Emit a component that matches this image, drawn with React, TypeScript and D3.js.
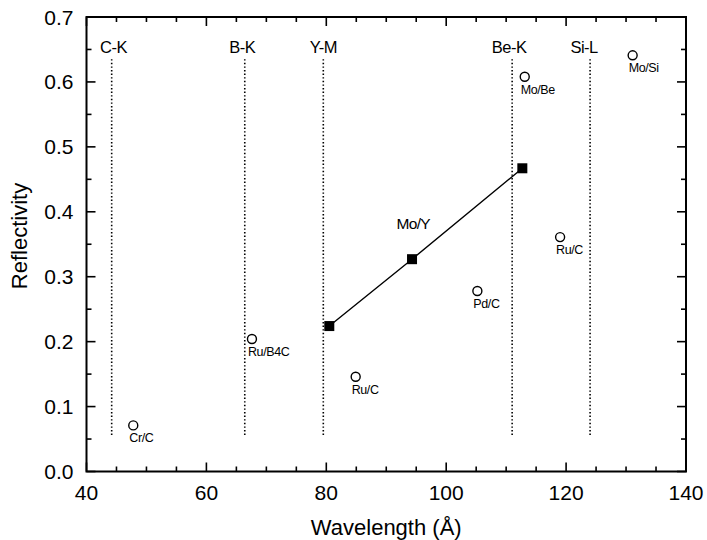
import React from "react";
import * as d3 from "d3";

const edgeNames = ["C-K", "B-K", "Y-M", "Be-K", "Si-L"];
const edgeX = [44.2, 66.4, 79.5, 111, 124];
const edgeLabelX = [44.5, 66, 79.5, 110.5, 123];
const edgeTop = 0.635;
const edgeBottom = 0.055;
const edgeLabelY = 0.645;

const moYX = [80.5, 94.3, 112.7];
const moYY = [0.224, 0.327, 0.467];
const moYLabel = "Mo/Y";
const moYLabelPos = [94.5, 0.373];

const otherNames = ["Cr/C", "Ru/B4C", "Ru/C", "Pd/C", "Ru/C", "Mo/Be", "Mo/Si"];
const otherX = [47.8, 67.6, 84.9, 105.2, 119.0, 113.1, 131.1];
const otherY = [0.071, 0.204, 0.146, 0.278, 0.361, 0.608, 0.641];

const xMajorTicks = [40, 60, 80, 100, 120, 140];
const yMajorTicks = [0.0, 0.1, 0.2, 0.3, 0.4, 0.5, 0.6, 0.7];
const xTitle = "Wavelength (Å)";
const yTitle = "Reflectivity";

const W = 707;
const H = 540;
const L = 86.5, R = 686, T = 17, B = 471.5;
const FONT = "'Liberation Sans', Arial, Helvetica, sans-serif";

export default function App() {
  const x = d3.scaleLinear().domain([40, 140]).range([L, R]);
  const y = d3.scaleLinear().domain([0, 0.7]).range([B, T]);
  const xMinor = d3.range(40, 140.01, 5);
  const yMinor = d3.range(0, 0.7001, 0.05);
  const line = d3.line<number>().x((d, i) => x(moYX[i])).y((d, i) => y(moYY[i]));
  const isMajorX = (v: number) => xMajorTicks.some((m) => Math.abs(m - v) < 1e-6);
  const isMajorY = (v: number) => Math.abs(Math.round(v * 10) - v * 10) < 1e-6;

  return (
    <svg width={W} height={H} style={{ position: "absolute", left: 0, top: 0 }} fontFamily={FONT}>
      <rect x={0} y={0} width={W} height={H} fill="#fff" />
      <rect x={L} y={T} width={R - L} height={B - T} fill="none" stroke="#000" strokeWidth={2} />
      {xMinor.map((v) => {
        const len = isMajorX(v) ? 9 : 5;
        return (
          <g key={"xt" + v}>
            <line x1={x(v)} x2={x(v)} y1={B} y2={B - len} stroke="#000" strokeWidth={1.6} />
            <line x1={x(v)} x2={x(v)} y1={T} y2={T + len} stroke="#000" strokeWidth={1.6} />
          </g>
        );
      })}
      {yMinor.map((v) => {
        const len = isMajorY(v) ? 9 : 5;
        return (
          <g key={"yt" + v}>
            <line x1={L} x2={L + len} y1={y(v)} y2={y(v)} stroke="#000" strokeWidth={1.6} />
            <line x1={R} x2={R - len} y1={y(v)} y2={y(v)} stroke="#000" strokeWidth={1.6} />
          </g>
        );
      })}
      {xMajorTicks.map((v) => (
        <text key={"xl" + v} x={x(v)} y={B + 28} textAnchor="middle" fontSize={21}>
          {v}
        </text>
      ))}
      {yMajorTicks.map((v) => (
        <text key={"yl" + v} x={L - 13} y={y(v) + 7.5} textAnchor="end" fontSize={21}>
          {v.toFixed(1)}
        </text>
      ))}
      <text x={(L + R) / 2} y={535} textAnchor="middle" fontSize={22}>
        {xTitle}
      </text>
      <text transform={`translate(27,236) rotate(-90)`} textAnchor="middle" fontSize={22}>
        {yTitle}
      </text>
      {edgeNames.map((n, i) => (
        <g key={"e" + i}>
          <line
            x1={x(edgeX[i])}
            x2={x(edgeX[i])}
            y1={y(edgeTop)}
            y2={y(edgeBottom)}
            stroke="#000"
            strokeWidth={1.6}
            strokeDasharray="1.4,2.2"
          />
          <text x={x(edgeLabelX[i])} y={y(edgeLabelY)} textAnchor="middle" fontSize={16.5} letterSpacing={-0.5}>
            {n}
          </text>
        </g>
      ))}
      <path d={line(moYX) || ""} fill="none" stroke="#000" strokeWidth={1.4} />
      {moYX.map((v, i) => (
        <rect key={"sq" + i} x={x(v) - 5} y={y(moYY[i]) - 5} width={10} height={10} fill="#000" />
      ))}
      <text x={x(moYLabelPos[0])} y={y(moYLabelPos[1])} textAnchor="middle" fontSize={15.5} letterSpacing={-0.7}>
        {moYLabel}
      </text>
      {otherNames.map((n, i) => (
        <g key={"o" + i}>
          <circle cx={x(otherX[i])} cy={y(otherY[i])} r={4.5} fill="none" stroke="#000" strokeWidth={1.4} />
          <text x={x(otherX[i]) - 4} y={y(otherY[i]) + 17} fontSize={12.5} letterSpacing={-0.4}>
            {n}
          </text>
        </g>
      ))}
    </svg>
  );
}
